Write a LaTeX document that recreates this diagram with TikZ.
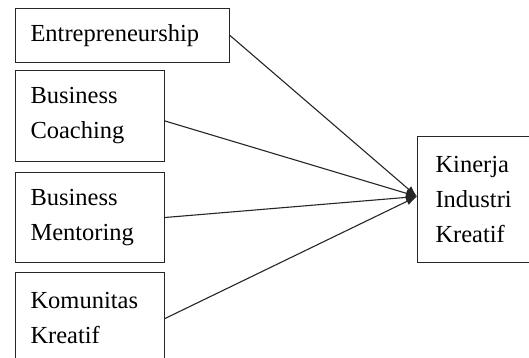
\documentclass[tikz,border=0pt]{standalone}
\usepackage{fontspec}
\setmainfont{Liberation Serif}
\usetikzlibrary{arrows.meta}
\begin{document}
\begin{tikzpicture}[x=1pt,y=-1pt,
  varbox/.style={draw=black!85, line width=1pt, anchor=north west, inner xsep=15pt, inner ysep=4pt,
    align=left, font=\fontsize{24.5}{35}\selectfont, minimum height=#1},
  link/.style={draw=black!85, line width=1.1pt, -{Latex[length=11pt,width=8pt]}}]
  \useasboundingbox (0,0) rectangle (529,358);
  % independent variables
  \node[varbox=54pt, text width=184pt] (ent) at (15,8) {Entrepreneurship};
  \node[varbox=91pt, text width=119pt] (coach) at (15,70) {Business\\Coaching};
  \node[varbox=90pt, text width=119pt] (ment) at (15,172) {Business\\Mentoring};
  \node[varbox=92pt, text width=119pt] (kom) at (15,272) {Komunitas\\Kreatif};
  % dependent variable, running past the right margin
  \node[varbox=126pt, inner xsep=18pt, text width=200pt] (kin) at (417,136) {Kinerja\\Industri\\Kreatif};
  \coordinate (tip) at ([yshift=3pt]kin.west);
  \coordinate (coachout) at ([yshift=-5pt]coach.east);
  % influence arrows
  \draw[link] (ent.east) -- (tip);
  \draw[link] (coachout) -- (tip);
  \draw[link] (ment.east) -- (tip);
  \draw[link] (kom.east) -- (tip);
\end{tikzpicture}
\end{document}
